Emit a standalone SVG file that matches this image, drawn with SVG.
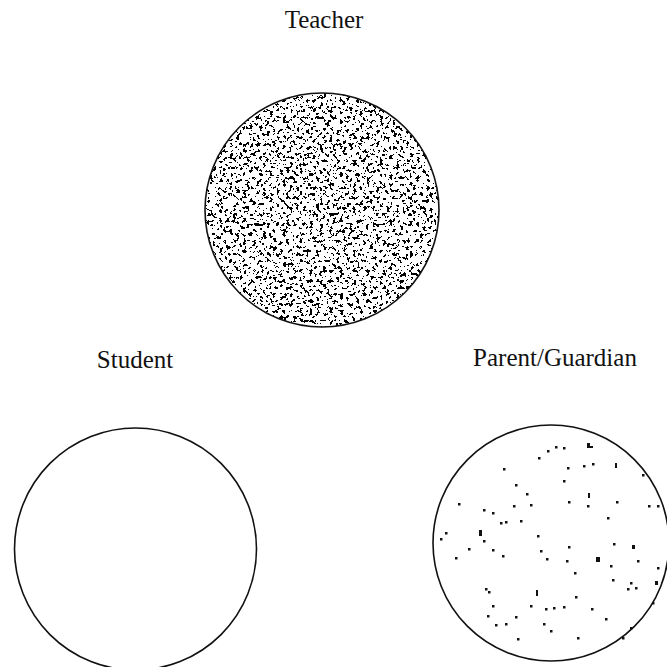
<svg xmlns="http://www.w3.org/2000/svg" width="667" height="667" viewBox="0 0 667 667">
  <style>
    .lbl { font-family: "Liberation Serif", "Times New Roman", serif; font-size: 25px; fill: #111; text-anchor: middle; }
    .ring { fill: none; stroke: #111; stroke-width: 1.6; }
    .dot { fill: #111; }
  </style>
  <defs>
    <filter id="dense" x="0" y="0" width="1" height="1" color-interpolation-filters="sRGB">
      <feTurbulence type="fractalNoise" baseFrequency="0.3" numOctaves="3" seed="7" result="n"/>
      <feColorMatrix in="n" type="matrix" values="0 0 0 0 0  0 0 0 0 0  0 0 0 0 0  1 0 0 0 0" result="a"/>
      <feComponentTransfer in="a" result="t">
        <feFuncA type="discrete" tableValues="0 0 0 0 0 0 0 0 0 0 0 0 1 1 1 1 1 1 1 1"/>
      </feComponentTransfer>
      <feComposite in="t" in2="SourceGraphic" operator="in"/>
    </filter>
    <rect id="d" width="2.5" height="2.5" class="dot"/>
  </defs>
  <rect width="667" height="667" fill="#fff"/>

  <g id="teacher">
    <text class="lbl" x="324" y="28">Teacher</text>
    <circle cx="322" cy="210" r="117" fill="#000" filter="url(#dense)"/>
    <circle class="ring" cx="322" cy="210" r="117"/>
  </g>

  <g id="student">
    <text class="lbl" x="135" y="368">Student</text>
    <circle class="ring" cx="135.5" cy="549" r="121"/>
  </g>

  <g id="parent">
    <text class="lbl" x="555" y="366">Parent/Guardian</text>
    <circle class="ring" cx="551" cy="543" r="118"/>
    <g class="specks">
      <rect x="587" y="443" width="3" height="5" class="dot"/><rect x="590" y="446" width="3" height="2" class="dot"/>
      <use href="#d" x="555" y="446"/><use href="#d" x="563" y="447"/><use href="#d" x="547" y="450"/><use href="#d" x="538" y="457"/>
      <use href="#d" x="503" y="468"/><use href="#d" x="567" y="467"/><use href="#d" x="583" y="465"/><use href="#d" x="592" y="463"/>
      <rect x="615" y="463" width="2" height="5" class="dot"/><use href="#d" x="642" y="474"/><use href="#d" x="563" y="480"/>
      <use href="#d" x="515" y="484"/><use href="#d" x="526" y="493"/><rect x="588" y="493" width="2" height="5" class="dot"/>
      <use href="#d" x="587" y="505"/><use href="#d" x="568" y="501"/><use href="#d" x="616" y="501"/><use href="#d" x="648" y="505"/>
      <use href="#d" x="657" y="505"/><use href="#d" x="458" y="503"/><use href="#d" x="483" y="509"/><use href="#d" x="492" y="512"/>
      <use href="#d" x="513" y="505"/><use href="#d" x="530" y="504"/><use href="#d" x="607" y="517"/><use href="#d" x="500" y="522"/>
      <use href="#d" x="505" y="521"/><use href="#d" x="520" y="520"/><rect x="479" y="530" width="3" height="6" class="dot"/>
      <use href="#d" x="483" y="540"/><use href="#d" x="445" y="532"/><use href="#d" x="440" y="538"/><use href="#d" x="537" y="535"/>
      <use href="#d" x="468" y="548"/><use href="#d" x="492" y="549"/><use href="#d" x="455" y="557"/><use href="#d" x="502" y="555"/>
      <use href="#d" x="540" y="550"/><use href="#d" x="546" y="558"/><use href="#d" x="568" y="546"/><use href="#d" x="566" y="560"/>
      <use href="#d" x="574" y="572"/><rect x="596" y="557" width="4" height="5" class="dot"/><use href="#d" x="610" y="565"/>
      <use href="#d" x="613" y="543"/><rect x="632" y="545" width="3" height="4" class="dot"/><use href="#d" x="637" y="560"/>
      <use href="#d" x="657" y="567"/><use href="#d" x="612" y="579"/><use href="#d" x="630" y="582"/><rect x="655" y="581" width="3" height="4" class="dot"/>
      <use href="#d" x="627" y="588"/><use href="#d" x="635" y="587"/><use href="#d" x="652" y="602"/><use href="#d" x="485" y="588"/>
      <use href="#d" x="488" y="591"/><rect x="536" y="590" width="2" height="6" class="dot"/><use href="#d" x="530" y="605"/>
      <use href="#d" x="492" y="605"/><use href="#d" x="545" y="608"/><use href="#d" x="553" y="607"/><use href="#d" x="563" y="606"/>
      <use href="#d" x="575" y="596"/><use href="#d" x="591" y="608"/><use href="#d" x="605" y="618"/><use href="#d" x="487" y="615"/>
      <use href="#d" x="495" y="624"/><use href="#d" x="505" y="623"/><use href="#d" x="515" y="616"/><use href="#d" x="543" y="623"/>
      <use href="#d" x="550" y="630"/><use href="#d" x="517" y="638"/><use href="#d" x="577" y="637"/><use href="#d" x="630" y="627"/>
      <use href="#d" x="622" y="637"/>
    </g>
  </g>

  <g id="connectors"></g>
</svg>
